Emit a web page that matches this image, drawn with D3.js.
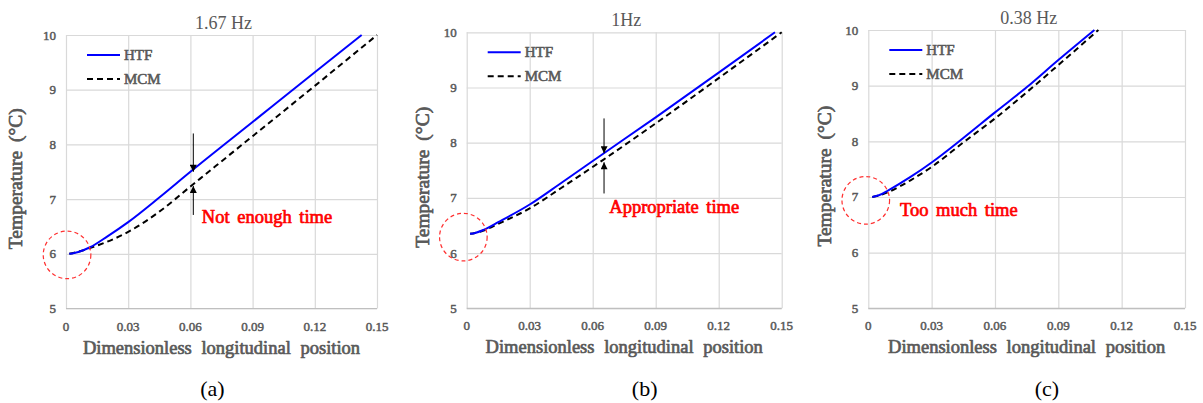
<!DOCTYPE html>
<html>
<head>
<meta charset="utf-8">
<script src="https://cdn.jsdelivr.net/npm/d3@7"></script>
<style>
  body { margin: 0; background: #fff; }
  text { font-family: "Liberation Serif", "Times New Roman", serif; }
</style>
</head>
<body>
<script>
// axis ticks shared by the three panels
var xTicks = [0, 0.03, 0.06, 0.09, 0.12, 0.15];
var yTicks = [5, 6, 7, 8, 9, 10];

var titles = ["1.67 Hz", "1Hz", "0.38 Hz"];
var subLabels = ["(a)", "(b)", "(c)"];
var seriesNames = ["HTF", "MCM"];
var notes = ["Not enough time", "Appropriate time", "Too much time"];

// [position, temperature]
var htfA = [[0.0016, 6.00], [0.004, 6.015], [0.008, 6.06], [0.0116, 6.12], [0.02, 6.32], [0.03, 6.58],
            [0.045, 7.03], [0.06, 7.50], [0.09, 8.41], [0.12, 9.32], [0.1426, 10.0]];
var mcmA = [[0.0016, 6.00], [0.004, 6.02], [0.008, 6.06], [0.015, 6.15], [0.03, 6.40], [0.045, 6.77],
            [0.06, 7.23], [0.09, 8.15], [0.12, 9.07], [0.15, 10.0]];

var htfB = [[0.0016, 6.35], [0.004, 6.365], [0.008, 6.42], [0.015, 6.56], [0.03, 6.88], [0.045, 7.27],
            [0.065, 7.80], [0.09, 8.46], [0.12, 9.27], [0.1468, 10.0]];
var mcmB = [[0.0016, 6.35], [0.004, 6.365], [0.008, 6.41], [0.015, 6.53], [0.03, 6.81], [0.045, 7.18],
            [0.065, 7.69], [0.09, 8.35], [0.12, 9.17], [0.15, 10.0]];

var htfC = [[0.0019, 7.00], [0.005, 7.03], [0.0095, 7.12], [0.02, 7.36], [0.03, 7.62], [0.045, 8.06],
            [0.06, 8.52], [0.075, 8.97], [0.09, 9.46], [0.1071, 10.0]];
var mcmC = [[0.0019, 7.00], [0.005, 7.025], [0.0095, 7.09], [0.02, 7.30], [0.03, 7.54], [0.045, 7.98],
            [0.06, 8.41], [0.075, 8.88], [0.09, 9.37], [0.109, 10.0]];

// annotation anchors in data units: arrows [x, from, to], note text start, dashed circle centre
var arrowsA = [[0.0614, 8.20, 7.50], [0.0614, 6.71, 7.24]];
var arrowsB = [[0.0654, 8.44, 7.81], [0.0654, 7.08, 7.645]];
var noteAt = [[0.0655, 6.57], [0.0679, 6.72], [0.015, 6.66]];
var circleAt = [[0.0005, 5.98], [-0.0016, 6.29], [-0.0012, 6.94]];

var width = 1203,
    height = 403;

var gray = "#595959";

var svg = d3.select("body")
    .append("svg")
    .attr("width", width)
    .attr("height", height);

// the serif face has no bold here, so thicken it with a stroke
function bold(sel, color, w) {
    sel.attr("fill", color)
       .attr("stroke", color)
       .attr("stroke-width", w)
       .attr("stroke-linejoin", "round");
}

var defs = svg.append("defs");
defs.append("marker")
    .attr("id", "head")
    .attr("viewBox", "0 0 8 8")
    .attr("refX", 8)
    .attr("refY", 4)
    .attr("markerUnits", "userSpaceOnUse")
    .attr("markerWidth", 8)
    .attr("markerHeight", 7)
    .attr("orient", "auto")
  .append("path")
    .attr("d", "M0,0L8,4L0,8Z")
    .attr("fill", "#000");

// plot boxes of the three panels
var panels = [
  { l: 66, r: 377, t: 35, b: 308.5, yTitleX: 22, subX: 212.5,
    htf: htfA, mcm: mcmA, arrows: arrowsA },
  { l: 466.7, r: 781.7, t: 32.3, b: 308.3, yTitleX: 429, subX: 644.7,
    htf: htfB, mcm: mcmB, arrows: arrowsB },
  { l: 868.3, r: 1185, t: 30, b: 308.3, yTitleX: 831, subX: 1047,
    htf: htfC, mcm: mcmC, arrows: [] }
];

panels.forEach(function(p, i) {

    var x = d3.scaleLinear().domain([0, 0.15]).range([p.l, p.r]);
    var y = d3.scaleLinear().domain([5, 10]).range([p.b, p.t]);

    var g = svg.append("g");

    // grid
    g.append("g")
        .attr("transform", "translate(0," + p.b + ")")
        .call(d3.axisBottom(x).tickValues(xTicks).tickSize(-(p.b - p.t)).tickFormat(""))
        .call(function(a) { a.select(".domain").remove(); })
        .selectAll("line").attr("stroke", "#d9d9d9").attr("stroke-width", 1.2);

    g.append("g")
        .attr("transform", "translate(" + p.l + ",0)")
        .call(d3.axisLeft(y).tickValues(yTicks).tickSize(-(p.r - p.l)).tickFormat(""))
        .call(function(a) { a.select(".domain").remove(); })
        .selectAll("line").attr("stroke", "#d9d9d9").attr("stroke-width", 1.2);

    g.append("line")
        .attr("x1", p.l).attr("x2", p.r)
        .attr("y1", p.b).attr("y2", p.b)
        .attr("stroke", "#bfbfbf").attr("stroke-width", 1.2);

    // tick labels
    g.selectAll(".xl")
        .data(xTicks)
        .enter().append("text")
        .attr("x", function(d) { return x(d); })
        .attr("y", p.b + 22)
        .attr("text-anchor", "middle")
        .attr("font-size", 13)
        .call(bold, gray, 0.5)
        .text(function(d) { return d === 0 ? "0" : d.toFixed(2); });

    g.selectAll(".yl")
        .data(yTicks)
        .enter().append("text")
        .attr("x", p.l - 10)
        .attr("y", function(d) { return y(d) + 4.5; })
        .attr("text-anchor", "end")
        .attr("font-size", 13)
        .call(bold, gray, 0.5)
        .text(function(d) { return d; });

    // titles
    g.append("text")
        .attr("x", (p.l + p.r) / 2 + 2)
        .attr("y", p.t - 6)
        .attr("text-anchor", "middle")
        .attr("font-size", 18)
        .attr("fill", gray)
        .text(titles[i]);

    g.append("text")
        .attr("x", (p.l + p.r) / 2)
        .attr("y", p.b + 45)
        .attr("text-anchor", "middle")
        .attr("font-size", 18.5)
        .attr("word-spacing", 5)
        .call(bold, gray, 0.7)
        .text("Dimensionless longitudinal position");

    g.append("text")
        .attr("transform", "translate(" + p.yTitleX + "," + ((p.t + p.b) / 2 + 7) + ") rotate(-90)")
        .attr("text-anchor", "middle")
        .attr("font-size", 19.5)
        .attr("word-spacing", 4)
        .call(bold, gray, 0.7)
        .text("Temperature (°C)");

    g.append("text")
        .attr("x", p.subX)
        .attr("y", 396)
        .attr("text-anchor", "middle")
        .attr("font-size", 22)
        .attr("fill", "#000")
        .text(subLabels[i]);

    // curves
    var line = d3.line()
        .x(function(d) { return x(d[0]); })
        .y(function(d) { return y(d[1]); })
        .curve(d3.curveMonotoneX);

    g.append("path")
        .datum(p.mcm)
        .attr("fill", "none")
        .attr("stroke", "#000")
        .attr("stroke-width", 2)
        .attr("stroke-dasharray", "6,4")
        .attr("d", line);

    g.append("path")
        .datum(p.htf)
        .attr("fill", "none")
        .attr("stroke", "#0000ff")
        .attr("stroke-width", 2)
        .attr("d", line);

    // legend
    var leg = g.append("g");
    seriesNames.forEach(function(name, k) {
        var ly = p.t + 20 + k * 24;
        leg.append("line")
            .attr("x1", p.l + 21).attr("x2", p.l + 54)
            .attr("y1", ly).attr("y2", ly)
            .attr("stroke", k === 0 ? "#0000ff" : "#000")
            .attr("stroke-width", 2)
            .attr("stroke-dasharray", k === 0 ? null : "6,4");
        leg.append("text")
            .attr("x", p.l + 58)
            .attr("y", ly + 5)
            .attr("font-size", 15)
            .call(bold, gray, 0.6)
            .text(name);
    });

    // arrows
    p.arrows.forEach(function(a) {
        g.append("line")
            .attr("x1", x(a[0])).attr("x2", x(a[0]))
            .attr("y1", y(a[1])).attr("y2", y(a[2]))
            .attr("stroke", "#000")
            .attr("stroke-width", 1)
            .attr("marker-end", "url(#head)");
    });

    // red note and dashed circle
    g.append("text")
        .attr("x", x(noteAt[i][0]))
        .attr("y", y(noteAt[i][1]))
        .attr("font-size", 18.5)
        .attr("word-spacing", 3)
        .call(bold, "#ff0000", 0.7)
        .text(notes[i]);

    g.append("circle")
        .attr("cx", x(circleAt[i][0]))
        .attr("cy", y(circleAt[i][1]))
        .attr("r", 23.8)
        .attr("fill", "none")
        .attr("stroke", "#ff3030")
        .attr("stroke-width", 1.2)
        .attr("stroke-dasharray", "4,3");
});
</script>
</body>
</html>
